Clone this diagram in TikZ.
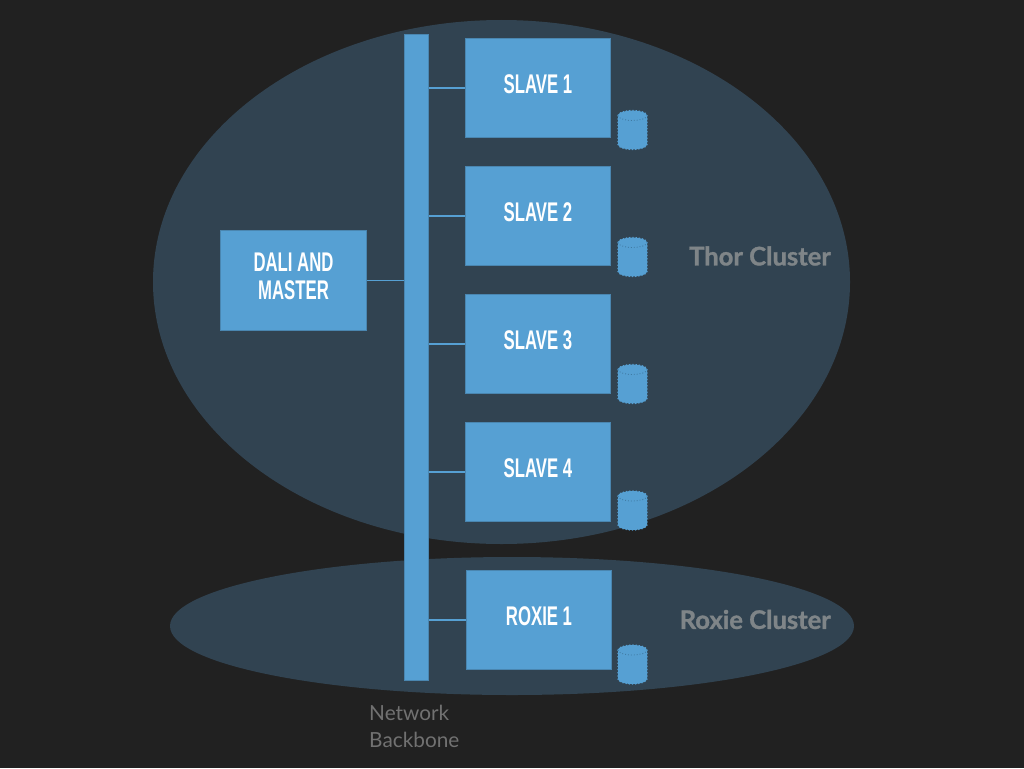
\documentclass[tikz,border=0pt]{standalone}
\usepackage{fontspec}
\usetikzlibrary{shapes.geometric}
\setmainfont{Lato}[BoldFeatures={FakeBold=1.2}]
\newfontfamily\boxfont[FakeStretch=0.62]{Liberation Sans}
\definecolor{bgdark}{HTML}{212121}
\definecolor{clusterblue}{HTML}{314351}
\definecolor{boxblue}{HTML}{56A0D3}
\definecolor{boxedge}{HTML}{4A86B0}
\definecolor{diskline}{HTML}{3F7AA3}
\definecolor{clustertext}{HTML}{7F8588}
\definecolor{nettext}{HTML}{717171}
\tikzset{
cluster/.style={ellipse,fill=clusterblue,inner sep=0pt},
server/.style={rectangle,fill=boxblue,draw=boxedge,line width=.6pt,minimum width=145.5pt,minimum height=99.5pt,inner sep=0pt,
 text=white,text depth=8pt,align=center,font=\boxfont\bfseries\fontsize{27}{28}\selectfont},
disk/.style={rectangle,minimum width=29pt,minimum height=39pt,inner sep=0pt},
diskbody/.style={fill=boxblue,draw=boxblue,dotted,line width=1.2pt},
diskrim/.style={draw=diskline,dotted,line width=.9pt},
link/.style={draw=boxblue,line width=1.6pt},
clusterlabel/.style={text=clustertext,inner sep=0pt,font=\bfseries\fontsize{25.6}{28}\selectfont},
}
\begin{document}
\begin{tikzpicture}[x=1pt,y=-1pt]
\fill[bgdark] (0,0) rectangle (1024,768);
\useasboundingbox (0,0) rectangle (1024,768);

\node[cluster,minimum width=697pt,minimum height=524pt] (thor) at (501.5,282) {};
\node[cluster,minimum width=684pt,minimum height=138pt] (roxie) at (512,626) {};

\node[rectangle,fill=boxblue,draw=boxedge,line width=.6pt,minimum width=24pt,minimum height=646pt,inner sep=0pt] (net) at (416.2,357) {};

\node[server] (master) at (293.5,280.5) {DALI AND\\MASTER};
\node[server] (s1) at (538,88) {SLAVE 1};
\node[server] (s2) at (538,216) {SLAVE 2};
\node[server] (s3) at (538,344) {SLAVE 3};
\node[server] (s4) at (538,472) {SLAVE 4};
\node[server] (r1) at (539,620) {ROXIE 1};

\node[disk] (d1) at (632.5,130) {};
\node[disk] (d2) at (632.5,257) {};
\node[disk] (d3) at (632.5,384) {};
\node[disk] (d4) at (632.5,510.5) {};
\node[disk] (d5) at (632.5,664.5) {};

\foreach \from in {master}
\draw[link] (\from.east) -- (\from.east -| net.west);
\foreach \from in {s1,s2,s3,s4,r1}
\draw[link] (\from.west) -- (\from.west -| net.east);
\foreach \from in {d1,d2,d3,d4,d5}
{
\draw[diskbody] ([shift={(-14.5,-14.5)}]\from.center) arc[start angle=180,end angle=0,x radius=14.5pt,y radius=5pt] -- ++(0,29) arc[start angle=0,end angle=-180,x radius=14.5pt,y radius=5pt] -- cycle;
\draw[diskrim] ([shift={(-14.5,-14.5)}]\from.center) arc[start angle=180,end angle=360,x radius=14.5pt,y radius=5pt];
}

\node[clusterlabel,anchor=east] (thorlabel) at (831,256) {Thor Cluster};
\node[clusterlabel,anchor=east] (roxielabel) at (831,619.5) {Roxie Cluster};
\node[text=nettext,anchor=north west,align=left,inner sep=0pt,font=\fontsize{20.8}{27}\selectfont] (netlabel) at (369,704.5) {Network\\Backbone};
\end{tikzpicture}
\end{document}
